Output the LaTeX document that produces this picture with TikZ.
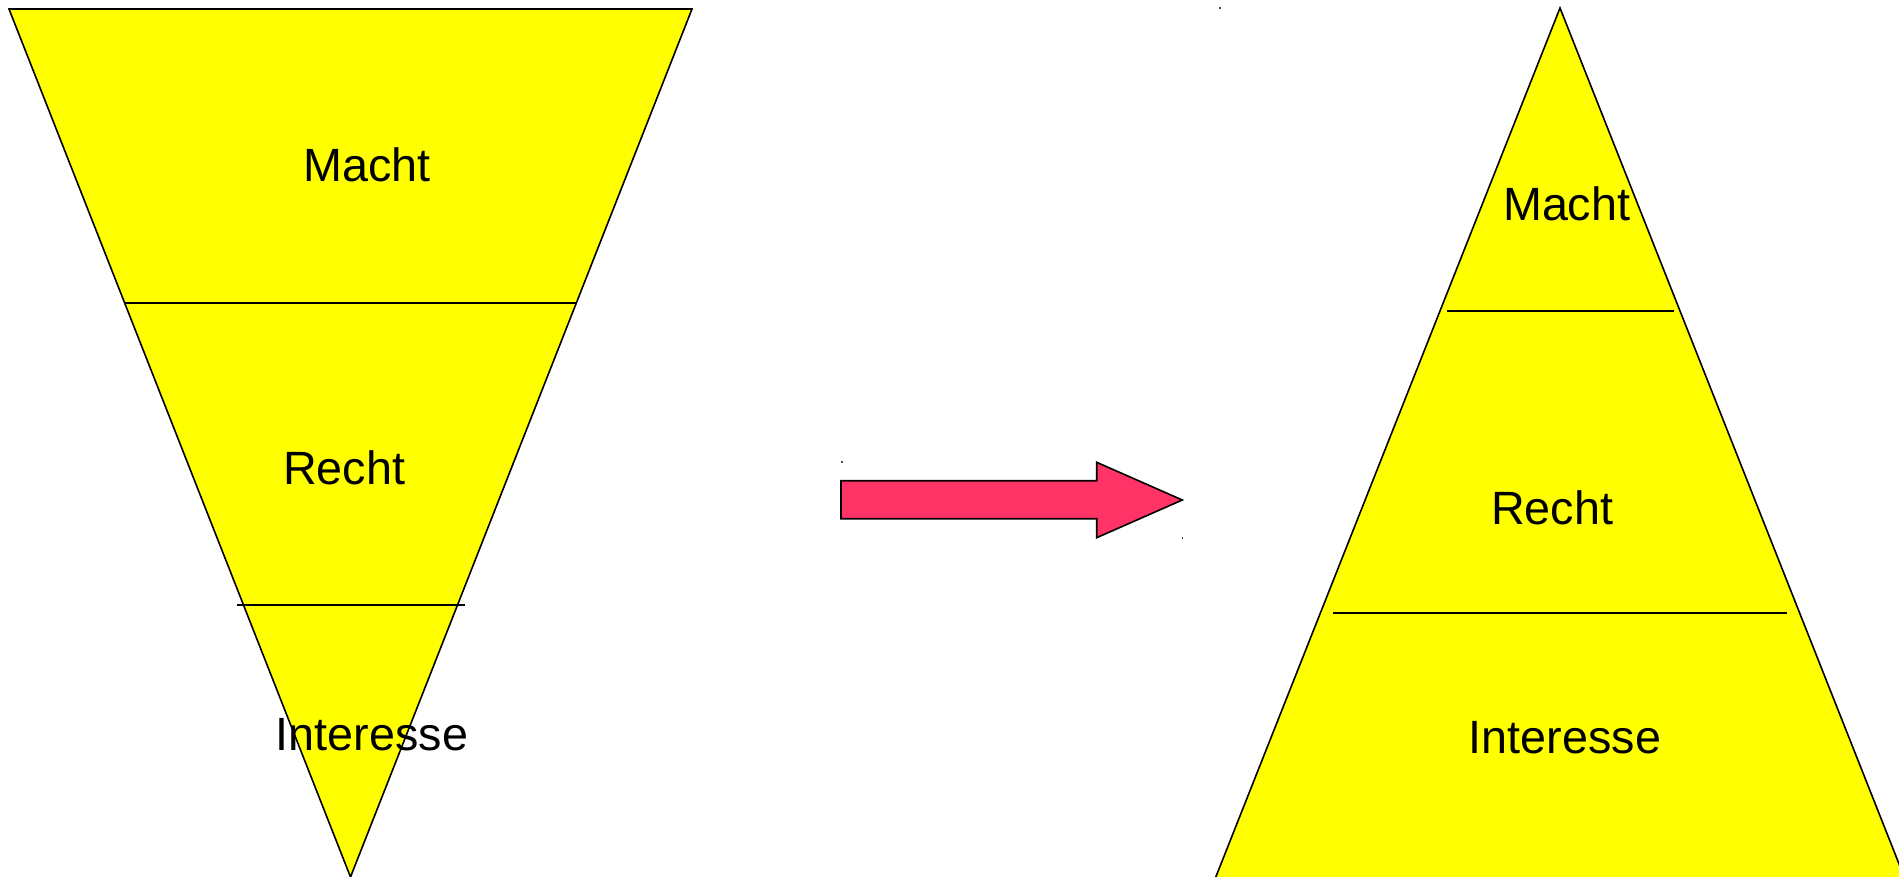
\documentclass[tikz,border=0pt]{standalone}
\usepackage{fontspec}
\setmainfont{Liberation Sans}
\definecolor{pyryellow}{RGB}{255,255,0}
\definecolor{arrowred}{RGB}{255,51,102}
\tikzset{
  layer/.style={fill=pyryellow, draw=black, line width=1.6pt, line join=miter},
  divider/.style={draw=black, line width=2pt},
  label/.style={anchor=base, inner sep=0pt, text=black, font=\fontsize{46.7}{56}\selectfont},
  bigarrow/.style={fill=arrowred, draw=black, line width=1.6pt},
  speck/.style={fill=black!70, draw=none}
}
\begin{document}
\begin{tikzpicture}[x=1pt,y=-1pt]
\useasboundingbox (0,0) rectangle (1899,877);
\clip (0,0) rectangle (1899,877);
\fill[white] (0,0) rectangle (1899,877);

% left inverted pyramid
\coordinate (LTL) at (9,9);
\coordinate (LTR) at (692,9);
\coordinate (LAP) at (350.5,877);
\draw[layer] (LTL) -- (LTR) -- (LAP) -- cycle;
\coordinate (L1a) at (124,302.7);
\coordinate (L1b) at (577,302.7);
\coordinate (L2a) at (236.5,605);
\coordinate (L2b) at (465,605);
\draw[divider] (L1a) -- (L1b);
\draw[divider] (L2a) -- (L2b);
\node[label] (lmacht) at (367,182) {Macht};
\node[label] (lrecht) at (344,484.4) {Recht};
\node[label] (linter) at (372,750.7) {Interesse};

% arrow
\draw[bigarrow] (841,480.7) -- (1096.7,480.7) -- (1096.7,462.3) -- (1182.3,500)
  -- (1096.7,537.7) -- (1096.7,518.7) -- (841,518.7) -- cycle;
\fill[speck] (841.2,461.2) rectangle (842.6,462.6);
\fill[speck] (1181.5,537.2) rectangle (1182.9,538.6);
\fill[speck] (1219.3,7.5) rectangle (1220.7,8.9);

% right pyramid
\coordinate (RAP) at (1560,8);
\coordinate (RBL) at (1215,879);
\coordinate (RBR) at (1905,879);
\draw[layer] (RAP) -- (RBR) -- (RBL) -- cycle;
\coordinate (R1a) at (1447,310.7);
\coordinate (R1b) at (1674,310.7);
\coordinate (R2a) at (1333,613);
\coordinate (R2b) at (1787,613);
\draw[divider] (R1a) -- (R1b);
\draw[divider] (R2a) -- (R2b);
\node[label] (rmacht) at (1566.7,220.7) {Macht};
\node[label] (rrecht) at (1552,524) {Recht};
\node[label] (rinter) at (1565,753.3) {Interesse};
\end{tikzpicture}
\end{document}
